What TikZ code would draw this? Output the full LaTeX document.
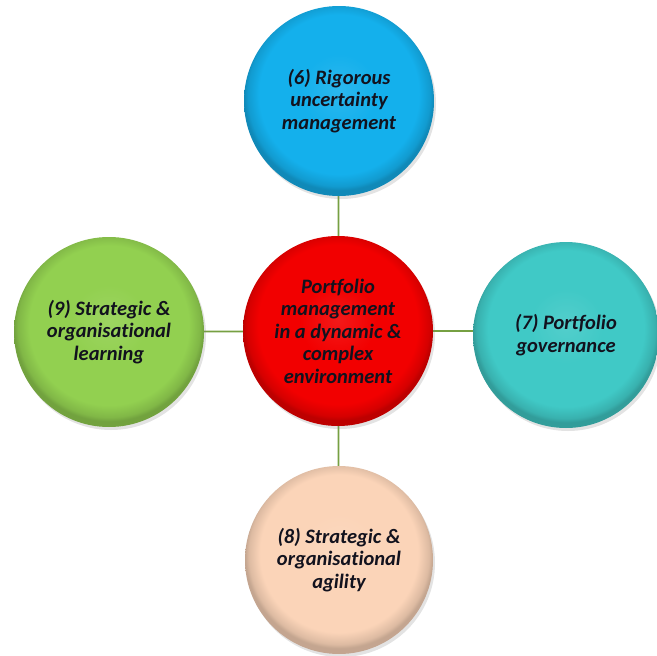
\documentclass[tikz,border=0pt]{standalone}
\usepackage{fontspec}
\setmainfont{Carlito}[Ligatures=NoCommon]
\usetikzlibrary{shadows,backgrounds}

\definecolor{cblue}{RGB}{20,176,236}
\definecolor{cred}{RGB}{242,0,0}
\definecolor{cgreen}{RGB}{146,208,80}
\definecolor{cteal}{RGB}{64,201,198}
\definecolor{cpeach}{RGB}{251,212,184}
\definecolor{clink}{RGB}{118,160,66}
\definecolor{ctext}{RGB}{18,18,30}
\colorlet{rimbase}{red}

% flat body with a darker bevelled rim, lit slightly from above
\pgfdeclareradialshading[rimbase]{rim}{\pgfpoint{0bp}{3bp}}{%
  color(0bp)=(rimbase!90!white); color(10bp)=(rimbase);
  color(21bp)=(rimbase); color(24bp)=(rimbase!88!black);
  color(25bp)=(rimbase!78!black); color(50bp)=(rimbase!78!black)}

\tikzset{
  rimshade/.code={\colorlet{rimbase}{#1}\pgfkeysalso{/tikz/shading=rim}},
  disc/.style={circle, inner sep=0pt, minimum size=190pt, align=center,
    text=ctext, font=\bfseries\itshape\fontsize{20.5}{22.5}\selectfont,
    rimshade=#1,
    drop shadow={shadow xshift=2pt, shadow yshift=-3pt, opacity=0.22}},
  link/.style={draw=clink, line width=1.8pt}
}

\begin{document}
\begin{tikzpicture}[x=1pt, y=-1pt]
  \useasboundingbox (0,0) rectangle (657,656);

  \node[disc=cblue]  (risk)  at (339,101) {(6) Rigorous\\uncertainty\\management};
  \node[disc=cred]   (core)  at (338,331) {Portfolio\\management\\in a dynamic \&\\complex\\environment};
  \node[disc=cgreen] (learn) at (109,332) {(9) Strategic \&\\organisational\\learning};
  \node[disc=cteal, minimum size=186pt] (gov) at (566,335) {(7) Portfolio\\governance};
  \node[disc=cpeach, minimum size=188pt] (agile) at (339,560) {(8) Strategic \&\\organisational\\agility};

  \begin{pgfonlayer}{background}
    \draw[link] (risk)  -- (core);
    \draw[link] (core)  -- (agile);
    \draw[link] (learn) -- (core);
    \draw[link] (core.east) -- (core.east -| gov.west);
  \end{pgfonlayer}
\end{tikzpicture}
\end{document}
